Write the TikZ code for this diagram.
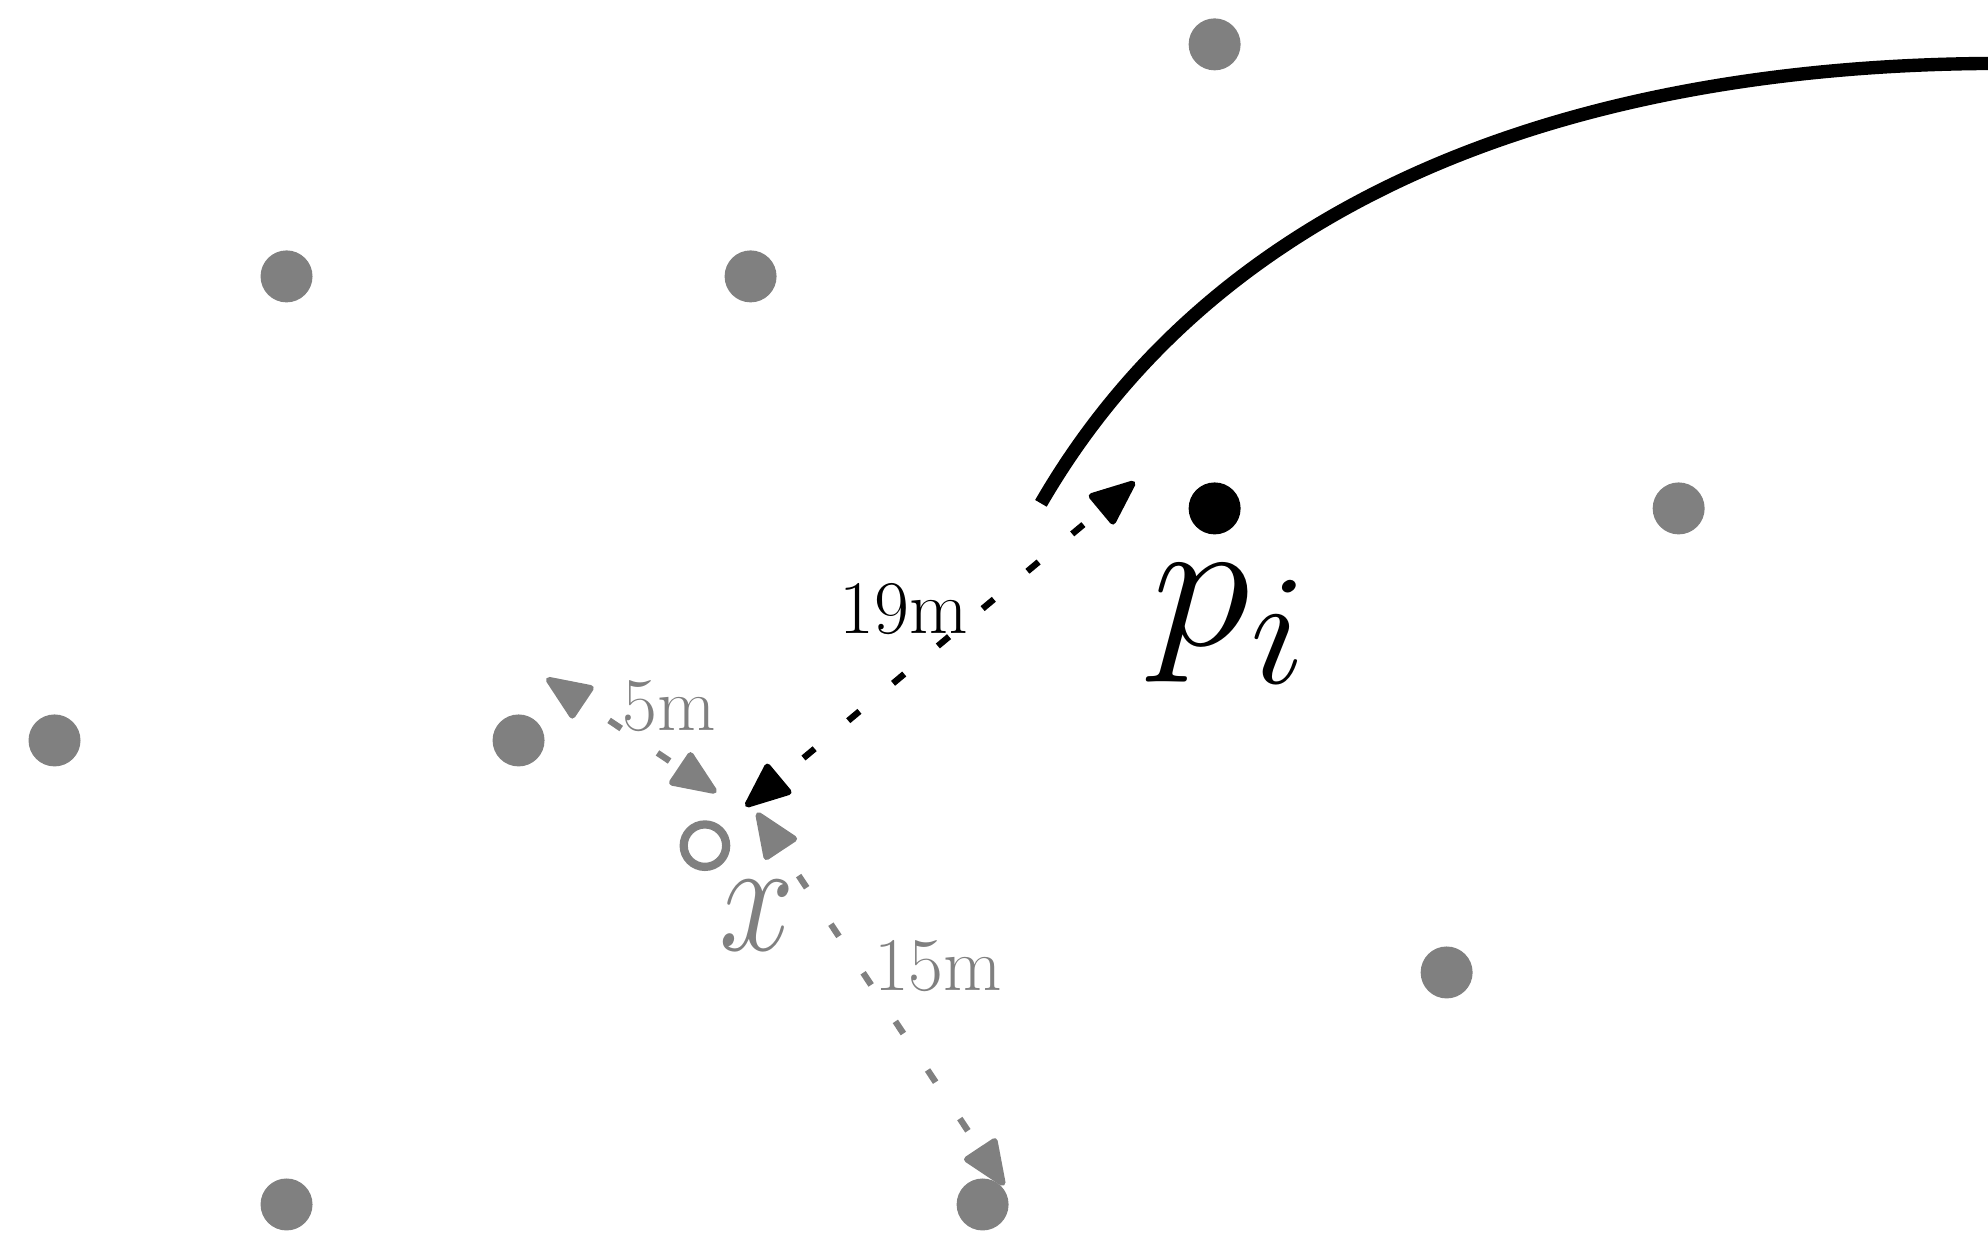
\documentclass[tikz,border=0pt]{standalone}
\usepackage{amsmath, amssymb}
\usepackage{graphicx}
\usepackage{xcolor}
\usepackage{tikz}
\usetikzlibrary{arrows.meta, positioning, calc}
\definecolor{DotGray}{RGB}{128, 128, 128}
\definecolor{InkBlack}{RGB}{0, 0, 0}

\begin{document}
\begin{tikzpicture}[
    griddot/.style={circle, fill=DotGray, inner sep=0pt, minimum size=0.41cm},
    querydot/.style={circle, fill=InkBlack, inner sep=0pt, minimum size=0.41cm},
    hollowdot/.style={circle, draw=DotGray, line width=0.065cm, inner sep=0pt, minimum size=0.335cm},
    distarrow/.style={
      line width=0.05cm,
      dash pattern=on 0.115cm off 0.345cm,
      dash phase=0.21cm,
      {Triangle[length=0.40cm, width=0.32cm, round]}-{Triangle[length=0.40cm, width=0.32cm, round]}
    },
    distlabel/.style={font=\fontsize{17}{20}\selectfont, inner sep=1pt}
  ]
  \useasboundingbox (0,0) rectangle (15.68,9.75);

  % lattice points
  \node[griddot] (g1) at (9.58, 9.40) {};
  \node[griddot] (g2) at (2.26, 7.57) {};
  \node[griddot] (g3) at (5.92, 7.57) {};
  \node[griddot] (g4) at (13.24, 5.74) {};
  \node[griddot] (g5) at (0.43, 3.91) {};
  \node[griddot] (g6) at (4.09, 3.91) {};
  \node[griddot] (g7) at (11.41, 2.08) {};
  \node[griddot] (g8) at (2.26, 0.25) {};
  \node[griddot] (g9) at (7.75, 0.25) {};

  % query point and sample
  \node[querydot] (pt) at (9.58, 5.74) {};
  \node[anchor=base, font=\Huge] (ptlab) at (9.71, 4.66) {\scalebox{1.80}[1.70]{$p_i$}};
  \node[hollowdot] (xs) at (5.56, 3.08) {};
  \node[anchor=base, text=DotGray, font=\Huge] (xlab) at (5.97, 2.25) {\scalebox{1.22}[1.46]{$x$}};

  % distance arrows
  \coordinate (d19a) at (5.88, 3.39);
  \coordinate (d19b) at (8.95, 5.95);
  \coordinate (d5a) at (4.31, 4.40);
  \coordinate (d5b) at (5.65, 3.50);
  \coordinate (d15a) at (5.97, 3.34);
  \coordinate (d15b) at (7.92, 0.40);
  \draw[distarrow, InkBlack] (d19a) -- (d19b);
  \draw[distarrow, DotGray] (d5a) -- (d5b);
  \draw[distarrow, DotGray] (d15a) -- (d15b);
  \node[distlabel] (l19) at (7.13, 4.95) {19m};
  \node[distlabel, text=DotGray] (l5) at (5.28, 4.18) {5m};
  \node[distlabel, text=DotGray] (l15) at (7.40, 2.13) {15m};

  % trajectory
  \coordinate (trs) at (8.21, 5.78);
  \coordinate (tre) at (15.80, 9.25);
  \draw[line width=3pt, InkBlack] (trs) .. controls (9.72, 8.39) and (12.75, 9.25) .. (tre);
\end{tikzpicture}
\end{document}
